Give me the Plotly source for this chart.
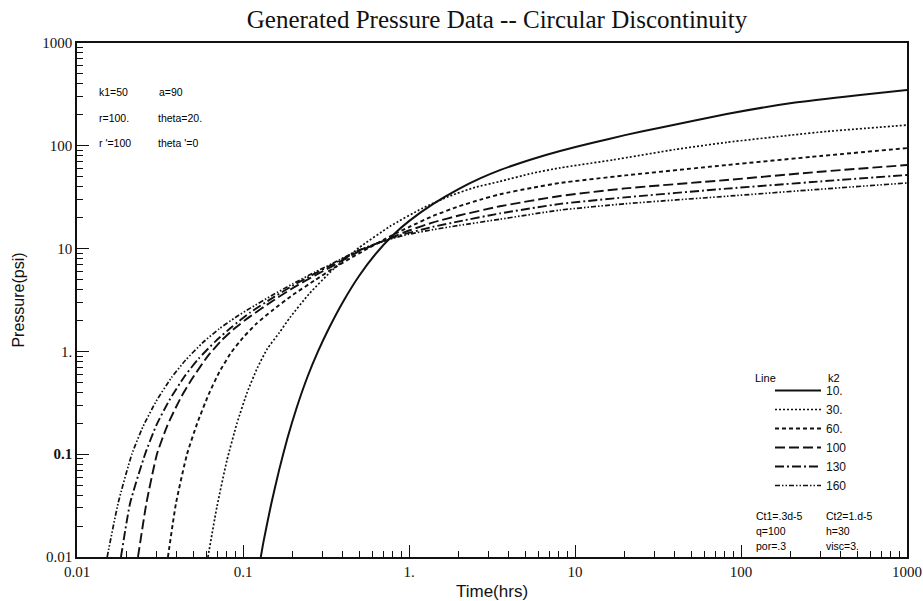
import plotly.graph_objects as go

# ---------------- data ----------------
k2_labels = ["10.", "30.", "60.", "100", "130", "160"]

t_k10 = [0.128, 0.133, 0.148, 0.165, 0.185, 0.21, 0.245, 0.283, 0.33, 0.40, 0.50, 0.63, 0.80, 1.0, 1.4,
         2.0, 2.7, 3.53, 5.5, 8.13, 12.8, 20, 32.5, 82, 207, 521, 1000]
p_k10 = [0.01, 0.0142, 0.033, 0.070, 0.142, 0.28, 0.57, 1.0, 1.69, 3.03, 5.42, 8.9, 13.5, 18.5, 27.2,
         38.1, 48.4, 58, 74, 89, 107, 127, 150, 204, 262, 312, 349]

t_k30 = [0.0615, 0.0697, 0.080, 0.092, 0.106, 0.122, 0.14, 0.165, 0.192, 0.25, 0.348, 0.5, 0.77, 1.2,
         1.77, 2.5, 3.53, 5.5, 8.13, 17, 40, 82, 200, 330, 1000]
p_k30 = [0.01, 0.031, 0.087, 0.20, 0.40, 0.69, 1.06, 1.51, 2.14, 3.62, 6.25, 10.2, 16.5, 24.6,
         32.6, 39.4, 45, 54, 61, 73, 92, 108, 127, 138, 159]

t_k60 = [0.0353, 0.0395, 0.046, 0.053, 0.062, 0.072, 0.085, 0.1, 0.12, 0.15, 0.2, 0.27, 0.348, 0.5,
         0.8, 1.0, 1.4, 2.0, 2.7, 3.53, 5.5, 8.13, 20, 82, 300, 1000]
p_k60 = [0.01, 0.0335, 0.1, 0.2, 0.38, 0.63, 0.98, 1.36, 1.85, 2.5, 3.55, 4.9, 6.4, 9.0,
         13.6, 16.2, 20.8, 25.8, 30, 33.8, 39, 43.5, 51.5, 65, 79.5, 95]

t_k100 = [0.0233, 0.0262, 0.0303, 0.035, 0.042, 0.05, 0.062, 0.075, 0.09, 0.11, 0.15, 0.2, 0.27, 0.348,
          0.5, 0.8, 1.0, 1.4, 2.0, 3.53, 8.13, 20, 82, 300, 1000]
p_k100 = [0.01, 0.0335, 0.1, 0.19, 0.35, 0.56, 0.92, 1.3, 1.7, 2.18, 3.08, 4.14, 5.46, 6.8,
          9.4, 13.0, 15.0, 18.0, 21.0, 25.8, 32.5, 38.5, 46.5, 56, 65]

t_k130 = [0.0184, 0.0209, 0.0257, 0.030, 0.036, 0.0444, 0.054, 0.0685, 0.086, 0.11, 0.15, 0.2, 0.27,
          0.348, 0.5, 0.8, 1.0, 1.4, 2.0, 3.53, 8.13, 20, 82, 300, 1000]
p_k130 = [0.01, 0.0335, 0.1, 0.19, 0.335, 0.57, 0.85, 1.26, 1.74, 2.38, 3.3, 4.38, 5.7,
          7.05, 9.6, 12.8, 14.2, 16.3, 18.4, 22, 27.2, 31.5, 38.3, 45, 52]

t_k160 = [0.0152, 0.0177, 0.0214, 0.025, 0.030, 0.037, 0.045, 0.057, 0.072, 0.09, 0.11, 0.15, 0.2,
          0.27, 0.348, 0.5, 0.8, 1.0, 1.4, 2.0, 3.53, 8.13, 20, 82, 300, 1000]
p_k160 = [0.01, 0.0335, 0.1, 0.186, 0.328, 0.553, 0.82, 1.21, 1.66, 2.14, 2.62, 3.52, 4.56,
          5.88, 7.2, 9.7, 12.6, 13.8, 15.3, 16.8, 19.3, 23.7, 27.3, 32.3, 37.8, 43.5]

x_tickvals = [0.01, 0.1, 1, 10, 100, 1000]
x_ticktext = ["0.01", "0.1", "1.", "10", "100", "1000"]
y_tickvals = [0.01, 0.1, 1, 10, 100, 1000]
y_ticktext = ["0.01", "<b>0.1</b>", "1.", "10", "100", "1000"]

# ---------------- figure ----------------
W, H = 923, 601
L, R, T, B = 77, 16, 43, 44
PW, PH = W - L - R, H - T - B


def px(xp):
    return (xp - L) / PW


def py(yp):
    return (H - B - yp) / PH


series = [
    (t_k10, p_k10, "solid", 2.0),
    (t_k30, p_k30, "2px,2px", 1.7),
    (t_k60, p_k60, "4px,3px", 1.9),
    (t_k100, p_k100, "10px,4px", 1.9),
    (t_k130, p_k130, "9px,3px,2px,3px", 1.9),
    (t_k160, p_k160, "5px,2px,1.5px,2px,1.5px,2px", 1.7),
]

fig = go.Figure()
for (t, p, dash, w), name in zip(series, k2_labels):
    fig.add_trace(go.Scatter(
        x=t, y=p, mode="lines", name=name,
        line=dict(color="#111111", width=w, dash=dash, shape="spline", smoothing=0.5),
    ))

minor_vals = [m * 10 ** e for e in range(-2, 3) for m in range(2, 10)]

axis_common = dict(
    type="log", showgrid=False, zeroline=False, automargin=False,
    showline=True, linecolor="#111111", linewidth=1.5, mirror=True,
    ticks="inside", ticklen=12, tickwidth=1.2, tickcolor="#111111",
    tickfont=dict(family="Liberation Serif", size=15, color="#111111"),
    minor=dict(tickvals=minor_vals, ticks="inside", ticklen=6, tickwidth=1, tickcolor="#111111", showgrid=False),
)

fig.update_xaxes(
    **axis_common, range=[-2, 3], tickmode="array", tickvals=x_tickvals, ticktext=x_ticktext,
    title=dict(text="Time(hrs)", font=dict(family="Liberation Sans", size=17, color="#111111"), standoff=9),
)
fig.update_yaxes(
    **axis_common, range=[-2, 3], tickmode="array", tickvals=y_tickvals, ticktext=y_ticktext,
    title=dict(text="Pressure(psi)", font=dict(family="Liberation Sans", size=16, color="#111111"), standoff=14),
)

ann_font = dict(family="Liberation Sans", size=10.5, color="#000000")
notes = [
    ("k1=50", 97, 92), ("a=90", 157, 92),
    ("r=100.", 97, 118), ("theta=20.", 156, 118),
    ("r '=100", 97, 143), ("theta '=0", 156, 143),
    ("Ct1=.3d-5", 754, 516), ("Ct2=1.d-5", 824, 516),
    ("q=100", 754, 531), ("h=30", 824, 531),
    ("por=.3", 754, 546), ("visc=3.", 824, 546),
]
annotations = [
    dict(text=s, x=px(x), y=py(y), xref="paper", yref="paper", xanchor="left", yanchor="middle",
         showarrow=False, font=ann_font)
    for s, x, y in notes
]
annotations += [
    dict(text="Line", x=px(753), y=py(378), xref="paper", yref="paper", xanchor="left", yanchor="middle",
         showarrow=False, font=dict(family="Liberation Sans", size=11, color="#000000")),
    dict(text="k2", x=px(826), y=py(378), xref="paper", yref="paper", xanchor="left", yanchor="middle",
         showarrow=False, font=dict(family="Liberation Sans", size=11, color="#000000")),
]

fig.update_layout(
    width=W, height=H,
    margin=dict(l=L, r=R, t=T, b=B, pad=0, autoexpand=False),
    paper_bgcolor="white", plot_bgcolor="white",
    title=dict(text="Generated Pressure Data -- Circular Discontinuity",
               font=dict(family="Liberation Serif", size=25, color="#111111"),
               x=px(497), xanchor="center", y=1 - 19 / H, yanchor="middle", xref="paper"),
    showlegend=True,
    legend=dict(x=px(770), y=py(376), xanchor="left", yanchor="top",
                bgcolor="rgba(0,0,0,0)", borderwidth=0,
                font=dict(family="Liberation Sans", size=12, color="#111111"),
                itemwidth=46, tracegroupgap=0, itemclick=False),
    annotations=annotations,
)

fig.write_html("out.html")
